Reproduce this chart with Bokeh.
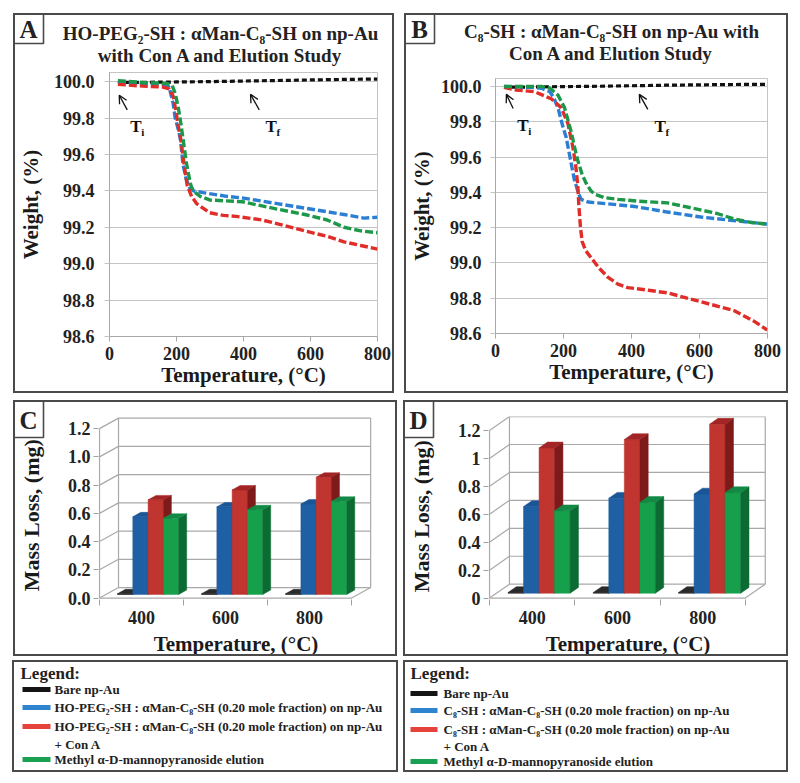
from bokeh.plotting import figure
from bokeh.models import Range1d, FixedTicker, Label, Arrow, OpenHead, PrintfTickFormatter
from bokeh.layouts import row, column
from bokeh.embed import file_html
from bokeh.resources import INLINE
from bokeh.core.properties import value

FONT = "Liberation Serif"

# ------------------------------------------------------------------ data
temp_ticks = [0, 200, 400, 600, 800]
weight_ticks = [98.6, 98.8, 99.0, 99.2, 99.4, 99.6, 99.8, 100.0]

# Panel A  (HO-PEG2-SH : aMan-C8-SH)
a_black_t = [25, 100, 200, 300, 400, 500, 600, 700, 800]
a_black_w = [99.995, 99.996, 99.998, 100.0, 100.003, 100.006, 100.009, 100.012, 100.014]
a_blue_t = [25, 100, 160, 178, 190, 196, 205, 212, 219, 228, 238, 250, 280, 350, 400, 500, 600, 700, 760, 800]
a_blue_w = [100.0, 99.99, 99.985, 99.97, 99.88, 99.80, 99.74, 99.68, 99.55, 99.47, 99.42, 99.40, 99.39,
            99.37, 99.36, 99.33, 99.30, 99.27, 99.25, 99.255]
a_red_t = [25, 100, 160, 178, 190, 198, 205, 213, 223, 232, 245, 260, 299, 340, 378, 456, 520, 583, 650, 700, 750, 800]
a_red_w = [99.985, 99.975, 99.97, 99.96, 99.92, 99.84, 99.76, 99.68, 99.54, 99.43, 99.37, 99.33, 99.28,
           99.265, 99.26, 99.24, 99.21, 99.18, 99.15, 99.12, 99.10, 99.08]
a_green_t = [25, 100, 170, 187, 197, 206, 213, 220, 229, 236, 243, 250, 270, 299, 397, 500, 583, 650, 700, 750, 800]
a_green_w = [100.005, 99.995, 99.99, 99.98, 99.93, 99.85, 99.77, 99.68, 99.56, 99.49, 99.43, 99.40, 99.37,
             99.35, 99.34, 99.30, 99.27, 99.24, 99.20, 99.18, 99.17]

# Panel B  (C8-SH : aMan-C8-SH)
b_black_t = [25, 100, 200, 300, 400, 500, 600, 700, 800]
b_black_w = [99.995, 99.997, 99.999, 100.001, 100.004, 100.007, 100.009, 100.011, 100.012]
b_blue_t = [25, 100, 135, 160, 173, 185, 193, 200, 208, 215, 223, 232, 245, 252, 272, 330, 408, 500, 604, 700, 799]
b_blue_w = [100.0, 99.995, 99.99, 99.97, 99.93, 99.87, 99.81, 99.76, 99.71, 99.64, 99.56, 99.47, 99.39,
            99.36, 99.345, 99.335, 99.32, 99.29, 99.26, 99.24, 99.22]
b_red_t = [25, 60, 115, 164, 193, 213, 228, 236, 242, 245, 250, 255, 265, 281, 305, 330, 360, 389, 450, 506,
           604, 701, 760, 799]
b_red_w = [99.995, 99.98, 99.97, 99.93, 99.88, 99.79, 99.65, 99.55, 99.44, 99.33, 99.20, 99.12, 99.07, 99.03,
           98.97, 98.92, 98.88, 98.86, 98.845, 98.83, 98.78, 98.73, 98.67, 98.62]
b_green_t = [25, 135, 160, 184, 203, 213, 223, 232, 242, 255, 267, 280, 291, 320, 360, 420, 506, 580, 652, 700,
             750, 799]
b_green_w = [100.0, 100.0, 99.99, 99.95, 99.88, 99.81, 99.74, 99.66, 99.58, 99.50, 99.45, 99.41, 99.39, 99.37,
             99.36, 99.35, 99.34, 99.31, 99.28, 99.25, 99.23, 99.22]

# Bar panels (mass loss, mg) at 400 / 600 / 800 C
bar_categories = ["400", "600", "800"]
mass_ticks = [0.0, 0.2, 0.4, 0.6, 0.8, 1.0, 1.2]
c_black = [0.005, 0.005, 0.005]
c_blue = [0.55, 0.62, 0.64]
c_red = [0.67, 0.74, 0.83]
c_green = [0.54, 0.60, 0.66]
d_black = [0.005, 0.005, 0.005]
d_blue = [0.62, 0.68, 0.71]
d_red = [1.04, 1.10, 1.21]
d_green = [0.59, 0.65, 0.72]
d_tick_labels = ["0", "0.2", "0.4", "0.6", "0.8", "1", "1.2"]

# titles
title_a = ["HO-PEG₂-SH : αMan-C₈-SH on np-Au", "with Con A and Elution Study"]
title_b = ["C₈-SH : αMan-C₈-SH on np-Au with", "Con A and Elution Study"]

# legend texts
legend_a = ["Bare np-Au",
            "HO-PEG₂-SH : αMan-C₈-SH  (0.20 mole fraction) on np-Au",
            "HO-PEG₂-SH : αMan-C₈-SH  (0.20 mole fraction) on np-Au",
            "Methyl α-D-mannopyranoside elution"]
legend_b = ["Bare np-Au",
            "C₈-SH  : αMan-C₈-SH  (0.20 mole fraction) on np-Au",
            "C₈-SH  : αMan-C₈-SH  (0.20 mole fraction) on np-Au",
            "Methyl α-D-mannopyranoside elution"]
legend_cont = "+ Con A"

# colours
LINE_COLORS = ["#111111", "#2b7fd2", "#e02d28", "#1c9848"]
SWATCH_COLORS = ["#151515", "#2f84d0", "#e5423c", "#1aa052"]
FRONT = ["#151515", "#1f5fa3", "#c0352f", "#16a04c"]
SIDE = ["#000000", "#154780", "#7e1a1a", "#0c6b32"]
TOP = ["#2a2a2a", "#1a5596", "#a32424", "#128a45"]

BOX = {"border": "2px solid #4a4a4a", "box-sizing": "border-box"}
TXT = "#222222"


def make_fig(c, margin):
    p = figure(width=c["W"], height=c["H"], x_range=Range1d(*c["xr"]), y_range=Range1d(*c["yr"]),
               output_backend="svg", toolbar_location=None,
               min_border_left=c["l"], min_border_right=c["r"], min_border_top=c["t"],
               min_border_bottom=c["b"], margin=margin, styles=BOX)
    p.border_fill_color = None
    p.background_fill_color = "white"
    return p


def style_axes_font(ax, size="18px"):
    ax.major_label_text_font = FONT
    ax.major_label_text_font_style = "bold"
    ax.major_label_text_font_size = size
    ax.major_label_text_color = TXT
    ax.axis_label_text_font = FONT
    ax.axis_label_text_font_style = "bold"
    ax.axis_label_text_font_size = "21px"
    ax.axis_label_text_color = "#1a1a1a"
    ax.minor_tick_line_color = None


def header(W, H, box, letter_txt, titles=(), title_cx=0, title_ys=()):
    """Letter box and title lines (drawn behind the chart, outside its frame)."""
    p = figure(width=W, height=H, x_range=Range1d(0, W), y_range=Range1d(H, 0),
               x_axis_type=None, y_axis_type=None, output_backend="svg", toolbar_location=None,
               min_border=0)
    p.border_fill_color = None
    p.background_fill_color = None
    p.outline_line_color = None
    p.quad(left=[box[0]], right=[box[1]], top=[box[2]], bottom=[box[3]], fill_color="white",
           line_color="#4a4a4a", line_width=1.6)
    p.text(x=[(box[0] + box[1]) / 2], y=[(box[2] + box[3]) / 2 + 1], text=[letter_txt],
           text_align="center", text_baseline="middle", text_font=value(FONT), text_font_style="bold",
           text_font_size="25px", text_color=TXT)
    if titles:
        p.text(x=[title_cx] * len(titles), y=list(title_ys), text=list(titles), text_align="center",
               text_baseline="middle", text_font=value(FONT), text_font_style="bold",
               text_font_size="19px", text_color=TXT)
    return row(p)


def tmark(p, head, tail, pos, sub):
    p.add_layout(Arrow(end=OpenHead(size=8, line_width=1.3, line_color="#111111"),
                       x_start=tail[0], y_start=tail[1], x_end=head[0], y_end=head[1],
                       line_width=1.3, line_color="#111111"))
    p.add_layout(Label(x=pos[0], y=pos[1], text="T", text_align="left", text_baseline="middle",
                       text_font=FONT, text_font_style="bold", text_font_size="17px", text_color="#111111"))
    p.add_layout(Label(x=pos[0], y=pos[1], x_offset=11, y_offset=-6, text=sub, text_align="left",
                       text_baseline="middle", text_font=FONT, text_font_style="bold",
                       text_font_size="11px", text_color="#111111"))


def tga_panel(c, hdr_h, series, ti, tf, std):
    p = make_fig(c, (-hdr_h, 0, 0, 0))
    p.outline_line_color = "#c4c4c4"
    p.xgrid.visible = False
    p.ygrid.ticker = FixedTicker(ticks=weight_ticks)
    p.ygrid.grid_line_color = "#c4c4c4"
    p.xaxis.ticker = FixedTicker(ticks=temp_ticks)
    p.yaxis.ticker = FixedTicker(ticks=weight_ticks)
    p.yaxis.formatter = PrintfTickFormatter(format="%.1f")
    for ax in (p.xaxis[0], p.yaxis[0]):
        style_axes_font(ax)
        ax.axis_line_color = "#a8a8a8"
        ax.major_tick_line_color = "#a8a8a8"
        ax.major_tick_out = 5
        ax.major_tick_in = 0
    p.yaxis.major_tick_line_color = "#c4c4c4"
    p.xaxis.major_label_standoff = 5
    p.xaxis.axis_label_standoff = 0
    p.yaxis.major_label_standoff = std[0]
    p.yaxis.axis_label_standoff = std[1]
    p.xaxis.axis_label = "Temperature, (°C)"
    p.yaxis.axis_label = "Weight, (%)"
    for (t, w), col in zip(series, LINE_COLORS):
        if col == LINE_COLORS[0]:
            p.line(t, w, line_color=col, line_width=3.2, line_dash="5 3")
        else:
            p.line(t, w, line_color=col, line_width=3.4, line_dash="8 3")
    tmark(p, *ti, "i")
    tmark(p, *tf, "f")
    return p


def bar_panel(c, hdr_h, vals, tick_labels, dpx):
    p = make_fig(c, (-hdr_h, 0, 0, 0))
    p.outline_line_color = None
    p.grid.visible = False
    fw = c["W"] - c["l"] - c["r"]
    fh = c["H"] - c["t"] - c["b"]
    ux = fw / (c["xr"][1] - c["xr"][0])
    uy = fh / (c["yr"][1] - c["yr"][0])
    DX, DY = dpx[0] / ux, dpx[1] / uy
    n = len(bar_categories)
    top = mass_ticks[-1]
    # walls / floor
    xs, ys = [], []
    for v in mass_ticks:
        xs.append([0, DX, n + DX]); ys.append([v, v + DY, v + DY])
    xs.append([DX, DX]); ys.append([DY, top + DY])
    xs.append([n + DX, n + DX]); ys.append([DY, top + DY])
    xs.append([0, n, n + DX]); ys.append([0, 0, DY])
    xs.append([0, 0]); ys.append([0, top])
    p.multi_line(xs, ys, line_color="#a9a9a9", line_width=1.2)
    # 3-D bars
    f0, f1, gap, w = 0.35, 0.77, 0.135, 0.182
    ddx, ddy = (f1 - f0) * DX, (f1 - f0) * DY
    pxs, pys, fills = [], [], []
    for ci in range(n):
        for si in range(len(vals)):
            v = vals[si][ci]
            x0 = ci + gap + si * w + f0 * DX
            x1 = x0 + w
            y0 = f0 * DY
            y1 = v + f0 * DY
            pxs += [[x0, x1, x1, x0], [x1, x1 + ddx, x1 + ddx, x1], [x0, x1, x1 + ddx, x0 + ddx]]
            pys += [[y0, y0, y1, y1], [y0, y0 + ddy, y1 + ddy, y1], [y1, y1, y1 + ddy, y1 + ddy]]
            fills += [FRONT[si], SIDE[si], TOP[si]]
    p.patches(pxs, pys, fill_color=fills, line_color=fills, line_width=0.5)
    # axes
    centers = [i + 0.5 for i in range(n)]
    p.xaxis.ticker = FixedTicker(ticks=centers, minor_ticks=list(range(n + 1)))
    p.xaxis.major_label_overrides = {cx: lab for cx, lab in zip(centers, bar_categories)}
    p.yaxis.ticker = FixedTicker(ticks=mass_ticks)
    p.yaxis.major_label_overrides = {v: lab for v, lab in zip(mass_ticks, tick_labels)}
    for ax in (p.xaxis[0], p.yaxis[0]):
        style_axes_font(ax)
        ax.axis_line_color = None
    p.xaxis.major_tick_line_color = None
    p.xaxis.major_tick_out = 0
    p.xaxis.minor_tick_line_color = "#a0a0a0"
    p.xaxis.minor_tick_out = 6
    p.xaxis.minor_tick_in = 0
    p.xaxis.major_label_standoff = 5
    p.xaxis.axis_label_standoff = 5
    p.yaxis.major_tick_line_color = "#a0a0a0"
    p.yaxis.major_tick_out = 5
    p.yaxis.major_tick_in = 0
    p.yaxis.major_label_standoff = 3
    p.yaxis.axis_label_standoff = 21
    p.yaxis.axis_label_text_font_size = "22px"
    p.xaxis.axis_label = "Temperature, (°C)"
    # trailing no-break spaces push the rotated label below the panel letter box
    p.yaxis.axis_label = "Mass Loss, (mg)" + "\u00a0" * 3
    return p


def legend_panel(W, H, margin, labels, sw_x, txt_x, head_x, head_y, rows_y, cont_y):
    p = figure(width=W, height=H, x_range=Range1d(0, W), y_range=Range1d(H, 0),
               x_axis_type=None, y_axis_type=None, output_backend="svg", toolbar_location=None,
               min_border=0, margin=margin, styles=BOX)
    p.border_fill_color = None
    p.outline_line_color = None
    p.segment(x0=[sw_x[0]] * 4, y0=rows_y, x1=[sw_x[1]] * 4, y1=rows_y,
              line_color=SWATCH_COLORS, line_width=5)
    p.text(x=[head_x], y=[head_y], text=["Legend:"], text_font=value(FONT), text_font_style="bold",
           text_font_size="17px", text_baseline="middle", text_color=TXT)
    p.text(x=[txt_x] * 5, y=rows_y + [cont_y], text=labels + [legend_cont], text_font=value(FONT),
           text_font_style="bold", text_font_size="13px", text_baseline="middle", text_color=TXT)
    return p


# ------------------------------------------------------------------ panels
cA = dict(W=381, H=380, l=90, r=19, t=57, b=59, xr=(0, 800), yr=(98.6, 100.05))
cB = dict(W=384, H=380, l=88, r=23, t=63, b=62, xr=(0, 800), yr=(98.6, 100.045))
cC = dict(W=384, H=256, l=83, r=26, t=12, b=59, xr=(-0.012, 3.26), yr=(-0.01, 1.3))
cD = dict(W=385, H=256, l=82, r=23, t=14, b=58, xr=(-0.012, 3.26), yr=(-0.01, 1.3))

hA = header(381, 56, (0, 30, 0, 30), "A", title_a, 207, (20, 42))
pA = tga_panel(cA, 56,
               [(a_black_t, a_black_w), (a_blue_t, a_blue_w), (a_red_t, a_red_w), (a_green_t, a_green_w)],
               ((29, 99.925), (53, 99.845), (62, 99.755)),
               ((421, 99.93), (447, 99.845), (466, 99.755)), (10, 8))
hB = header(384, 56, (0, 30, 0, 30), "B", title_b, 207, (18, 40))
pB = tga_panel(cB, 56,
               [(b_black_t, b_black_w), (b_blue_t, b_blue_w), (b_red_t, b_red_w), (b_green_t, b_green_w)],
               ((32, 99.955), (52, 99.875), (64, 99.78)),
               ((423, 99.955), (448, 99.87), (468, 99.775)), (9, 4))
hC = header(384, 40, (0, 30, 0, 37), "C")
pC = bar_panel(cC, 40, [c_black, c_blue, c_red, c_green], ["%.1f" % v for v in mass_ticks], (19, 10.5))
hD = header(385, 40, (0, 30, 0, 37), "D")
pD = bar_panel(cD, 40, [d_black, d_blue, d_red, d_green], d_tick_labels, (20, 14))

lA = legend_panel(386, 112, (4, 0, 0, 12), legend_a, (8, 36), 40, 6, 11, [27, 45, 64, 97], 82)
lB = legend_panel(385, 112, (4, 0, 0, 5), legend_b, (5, 32), 38, 5, 11, [31, 48, 67, 99], 84)

panelA = column(hA, pA, margin=(13, 0, 0, 13))
panelB = column(hB, pB, margin=(13, 0, 0, 10))
panelC = column(hC, pC, margin=(7, 0, 0, 13))
panelD = column(hD, pD, margin=(7, 0, 0, 6))

layout = column(row(panelA, panelB), row(panelC, panelD), row(lA, lB))

with open("out.html", "w") as f:
    f.write(file_html(layout, INLINE))
